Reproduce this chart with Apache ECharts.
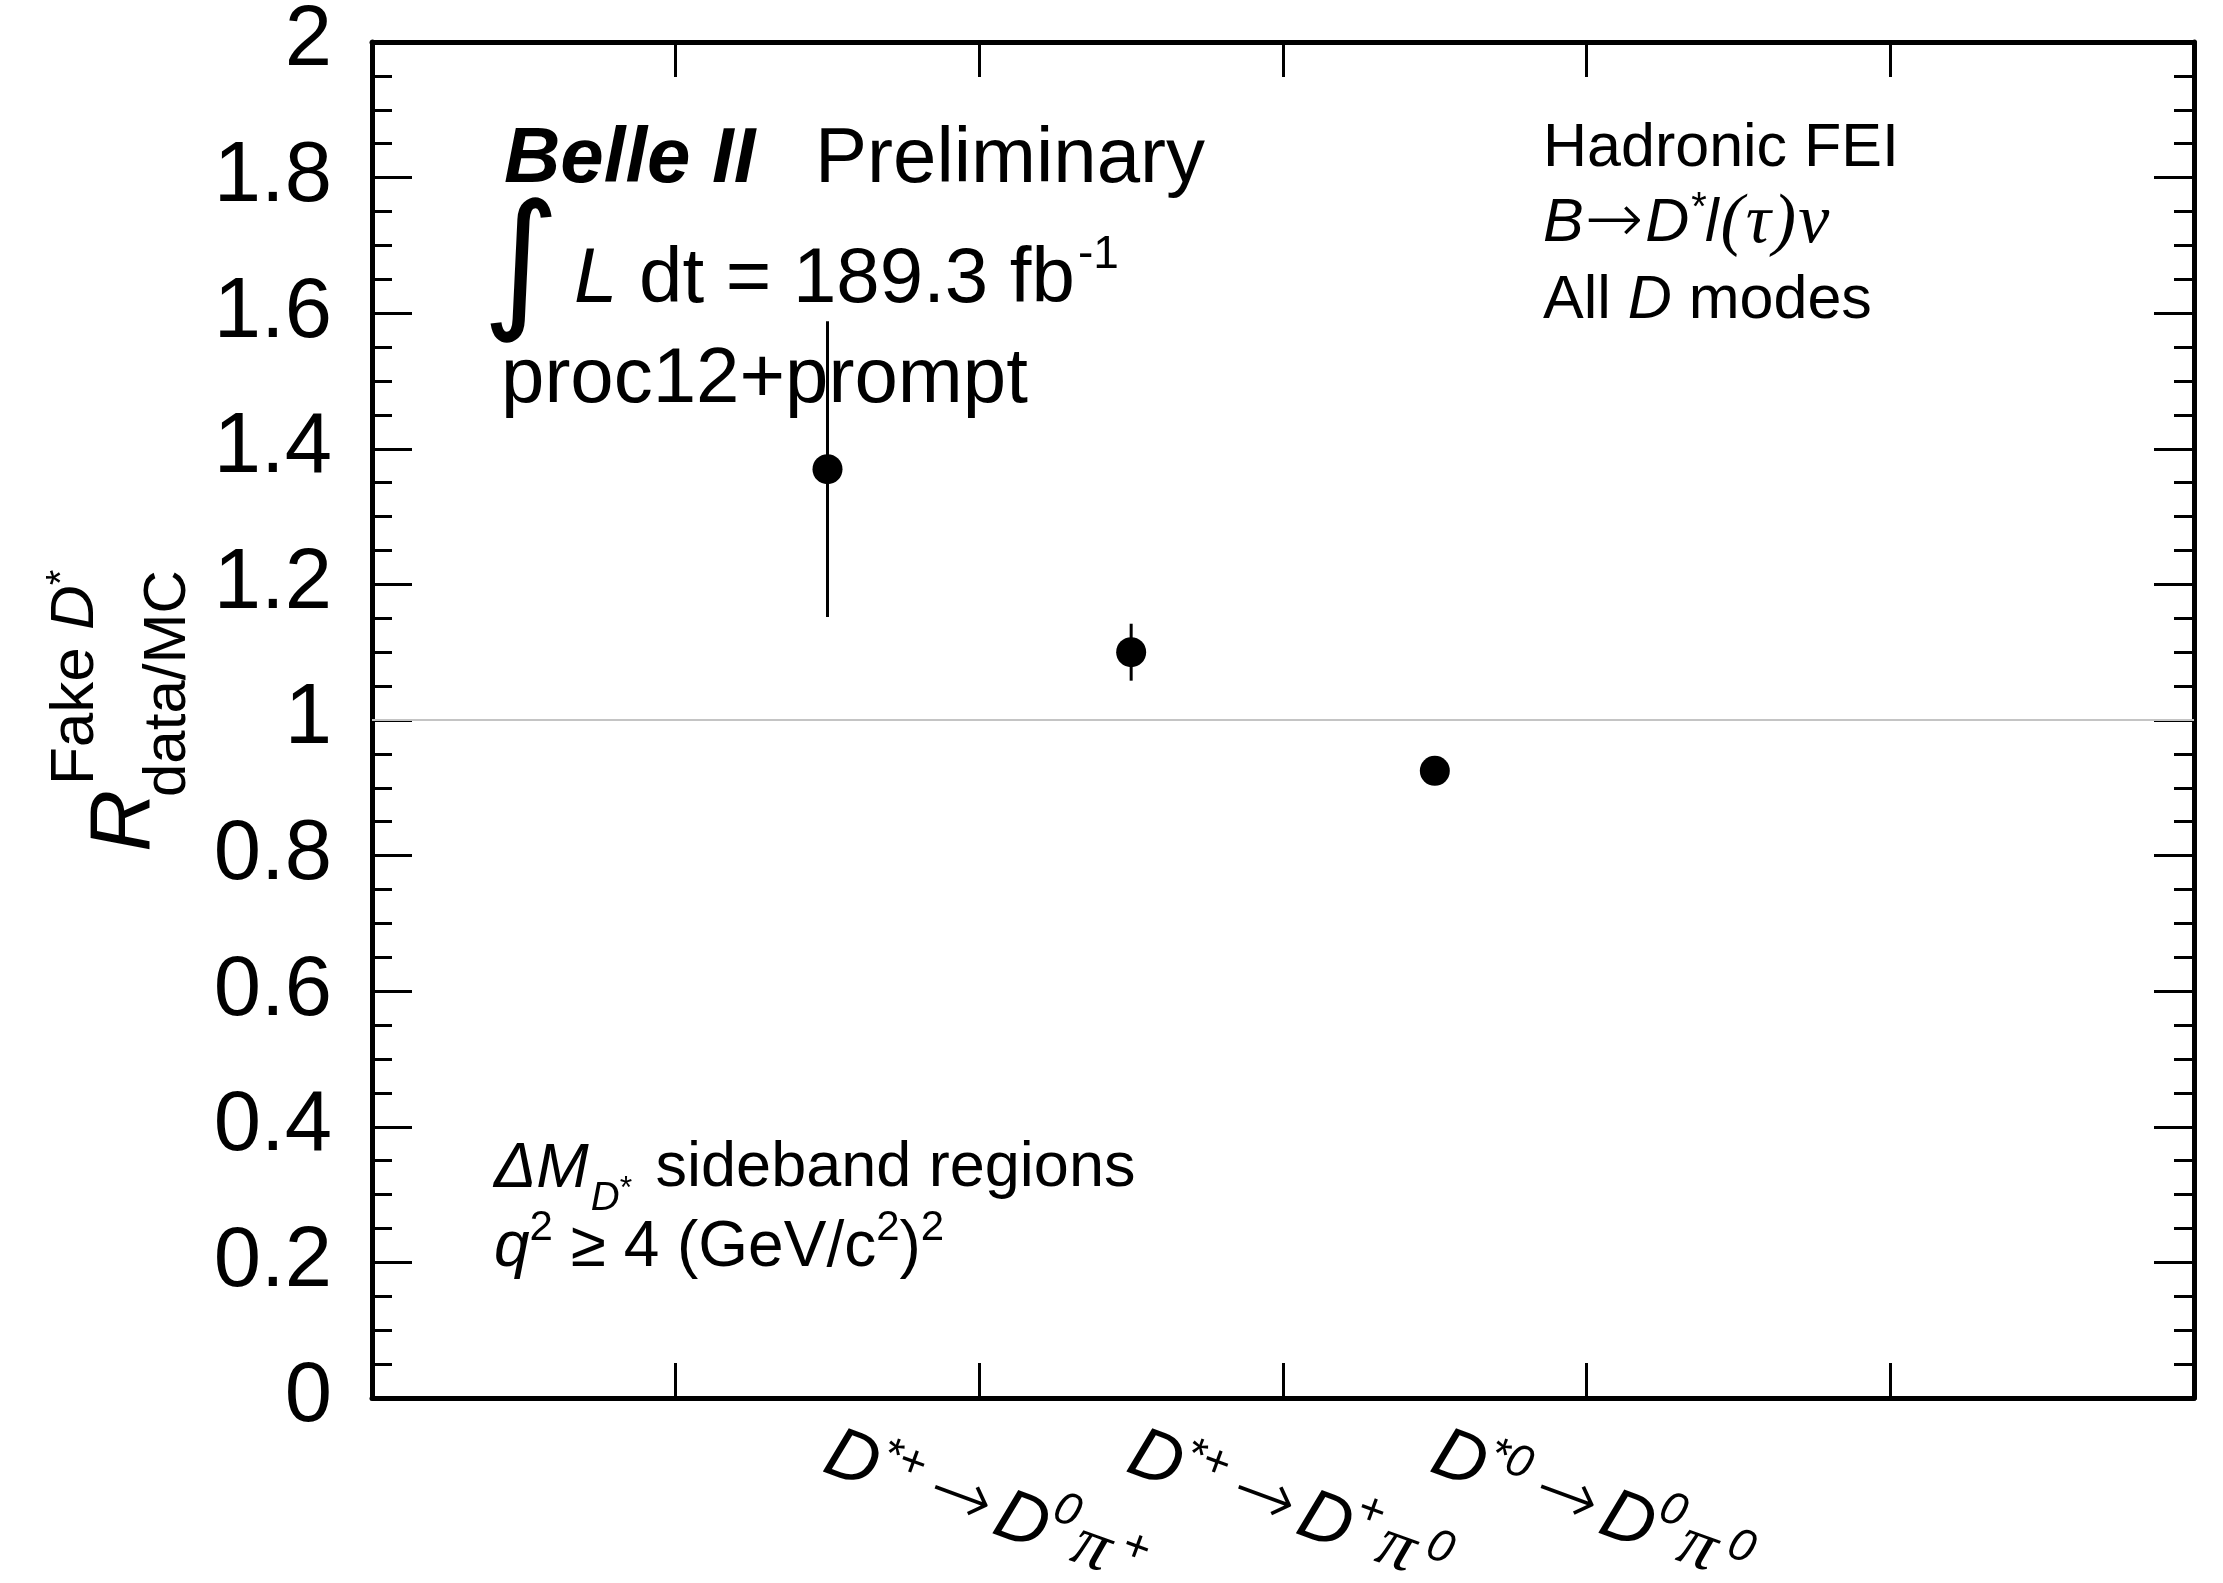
<!DOCTYPE html>
<html><head><meta charset="utf-8">
<script src="https://cdn.jsdelivr.net/npm/echarts@6/dist/echarts.min.js"></script>
<style>html,body{margin:0;padding:0;background:#fff}#c{width:2223px;height:1583px}</style>
</head><body><div id="c"></div>
<script>
// ---- data ----
const categories = ['bin0', 'Dstp_D0pip', 'Dstp_Dppi0', 'Dst0_D0pi0', 'bin4', 'bin5'];
const labelParent   = ['', '*+', '*+', '*0', '', ''];
const labelDaughter = ['', '0', '+', '0', '', ''];
const labelPion     = ['', '+', '0', '0', '', ''];
const pointCats = ['Dstp_D0pip', 'Dstp_Dppi0', 'Dst0_D0pi0'];
const ratio     = [1.37, 1.10, 0.925];
const ratioErr  = [0.218, 0.042, 0.015];
const yTickLabels = ['0', '0.2', '0.4', '0.6', '0.8', '1', '1.2', '1.4', '1.6', '1.8', '2'];
const refValue = 1;

const SANS = "'Liberation Sans', Arial, Helvetica, sans-serif";
const SERIF = "'Liberation Serif', 'Times New Roman', serif";
const ARROWF = "'DejaVu Sans', sans-serif";

const chart = echarts.init(document.getElementById('c'), null, {renderer: 'canvas'});

const axisLineStyle = {color: '#000', width: 5};
const tickStyle = {color: '#000', width: 3};

function xLabel(value, index) {
  if (!labelParent[index]) return '';
  return '{D|D}{sa|' + labelParent[index] + '}{ar|\u2192}{D2|D}{sb|' + labelDaughter[index] +
         '}{pi|\u03c0}{sc|' + labelPion[index] + '}';
}

function yLabel(v) {
  const i = Math.round(v / 0.2);
  return yTickLabels[i] !== undefined ? yTickLabels[i] : '';
}

function T(x, y, text, fs, extra) {
  const st = Object.assign({
    text: text, fill: '#000', fontSize: fs, fontFamily: SANS,
    align: 'left', verticalAlign: 'middle'
  }, extra && extra.style || {});
  const el = {type: 'text', x: x, y: y, z: 100, silent: true, style: st};
  if (extra && extra.rotation) el.rotation = extra.rotation;
  return el;
}

const option = {
  backgroundColor: '#fff',
  animation: false,
  grid: {left: 372, right: 29, top: 42, bottom: 185, containLabel: false, outerBoundsMode: 'none'},
  xAxis: [
    {
      type: 'category', data: categories, position: 'bottom', boundaryGap: true,
      axisLine: {show: true, onZero: false, lineStyle: axisLineStyle},
      axisTick: {show: true, inside: true, length: 35, interval: 0, lineStyle: tickStyle},
      splitLine: {show: false},
      axisLabel: {
        show: true, interval: 0, rotate: -20, margin: 54, formatter: xLabel,
        color: '#000',
        rich: {
          D:  {fontFamily: SANS, fontStyle: 'italic', fontSize: 72, lineHeight: 110, color: '#000'},
          sa: {fontFamily: SANS, fontStyle: 'italic', fontSize: 46, padding: [0, 0, 36, 0], color: '#000'},
          ar: {fontFamily: ARROWF, fontWeight: 200, fontSize: 76, padding: [0, 0, 0, 12], color: '#000'},
          D2: {fontFamily: SANS, fontStyle: 'italic', fontSize: 72, padding: [0, 0, 0, 8], color: '#000'},
          sb: {fontFamily: SANS, fontStyle: 'italic', fontSize: 46, padding: [0, 0, 52, 0], color: '#000'},
          pi: {fontFamily: SERIF, fontStyle: 'italic', fontSize: 72, padding: [0, 0, 0, 5], color: '#000'},
          sc: {fontFamily: SANS, fontStyle: 'italic', fontSize: 46, padding: [0, 0, 30, 10], color: '#000'}
        }
      }
    },
    {
      type: 'category', data: categories, position: 'top', boundaryGap: true,
      axisLine: {show: true, onZero: false, lineStyle: axisLineStyle},
      axisTick: {show: true, inside: true, length: 35, interval: 0, lineStyle: tickStyle},
      axisLabel: {show: false}, splitLine: {show: false}
    }
  ],
  yAxis: [
    {
      type: 'value', position: 'left', min: 0, max: 2, interval: 0.2,
      axisLine: {show: true, onZero: false, lineStyle: axisLineStyle},
      axisTick: {show: true, inside: true, length: 40, lineStyle: tickStyle},
      minorTick: {show: true, splitNumber: 4, length: 20, lineStyle: tickStyle},
      splitLine: {show: false},
      axisLabel: {show: true, margin: 40, fontSize: 85, fontFamily: SANS, color: '#000',
                  formatter: yLabel, showMinLabel: true, showMaxLabel: true}
    },
    {
      type: 'value', position: 'right', min: 0, max: 2, interval: 0.2,
      axisLine: {show: true, onZero: false, lineStyle: axisLineStyle},
      axisTick: {show: true, inside: true, length: 40, lineStyle: tickStyle},
      minorTick: {show: true, splitNumber: 4, length: 20, lineStyle: tickStyle},
      splitLine: {show: false},
      axisLabel: {show: false}
    }
  ],
  series: [
    {
      type: 'custom', xAxisIndex: 0, yAxisIndex: 0, z: 3,
      data: pointCats.map((c, i) => [c, ratio[i], ratioErr[i]]),
      encode: {x: 0, y: 1},
      renderItem: function (params, api) {
        const x = api.value(0), y = api.value(1), e = api.value(2);
        const p1 = api.coord([x, y + e]);
        const p2 = api.coord([x, y - e]);
        return {type: 'line', shape: {x1: p1[0], y1: p1[1], x2: p2[0], y2: p2[1]},
                style: {stroke: '#000', lineWidth: 3}};
      }
    },
    {
      type: 'scatter', xAxisIndex: 0, yAxisIndex: 0, z: 4,
      data: pointCats.map((c, i) => [c, ratio[i]]),
      symbol: 'circle', symbolSize: 30,
      itemStyle: {color: '#000', opacity: 1},
      markLine: {
        silent: true, symbol: ['none', 'none'], label: {show: false},
        lineStyle: {color: '#c4c4c4', width: 2, type: 'solid'},
        data: [{yAxis: refValue}], animation: false
      }
    }
  ],
  graphic: [
    // top-left block
    T(504, 160, 'Belle II', 78, {style: {fontWeight: 'bold', fontStyle: 'italic'}}),
    T(815, 160, 'Preliminary', 78),
    T(482, 272, '\u222b', 150, {style: {fontFamily: ARROWF}}),
    T(574, 280, '{i|L} dt = 189.3 fb{s|-1}', 78, {style: {rich: {
      i: {fontStyle: 'italic', fontSize: 78, fontFamily: SANS},
      s: {fontSize: 46, fontFamily: SANS, padding: [0, 0, 50, 3]}
    }}}),
    T(501, 380, 'proc12+prompt', 78),
    // top-right block
    T(1543, 149, 'Hadronic FEI', 61),
    T(1543, 224, '{i|B}{ar|\u2192}{i|D}{s|*}{i|l}{g|(}{g|\u03c4}{g|)}{g|\u03bd}', 61, {style: {rich: {
      i: {fontStyle: 'italic', fontSize: 61, fontFamily: SANS},
      ar: {fontSize: 70, fontWeight: 200, fontFamily: ARROWF, padding: [0, 2, 0, 1]},
      s: {fontStyle: 'italic', fontSize: 40, fontFamily: SANS, padding: [0, 0, 30, 0]},
      g: {fontStyle: 'italic', fontSize: 70, fontFamily: SERIF, padding: [0, 0, 0, 2]}
    }}}),
    T(1543, 301, 'All {i|D} modes', 61, {style: {rich: {
      i: {fontStyle: 'italic', fontSize: 61, fontFamily: SANS}
    }}}),
    // bottom-left block
    T(494, 1169, '{i|\u0394M}{sub|D}{st|*}{n| sideband regions}', 63, {style: {rich: {
      i: {fontStyle: 'italic', fontSize: 63, fontFamily: SANS},
      sub: {fontStyle: 'italic', fontSize: 40, fontFamily: SANS, padding: [60, 0, 0, 2]},
      st: {fontSize: 32, fontFamily: SANS, padding: [40, 0, 0, 0]},
      n: {fontSize: 63, fontFamily: SANS, padding: [0, 0, 0, 6]}
    }}}),
    T(494, 1248, '{i|q}{s|2} \u2265 4 (GeV/c{s|2}){s|2}', 64, {style: {rich: {
      i: {fontStyle: 'italic', fontSize: 64, fontFamily: SANS},
      s: {fontSize: 42, fontFamily: SANS, padding: [0, 0, 40, 0]}
    }}}),
    // y axis title
    T(125, 852, 'R', 86, {rotation: Math.PI / 2, style: {fontStyle: 'italic'}}),
    T(76, 785, 'Fake {i|D}{s|*}', 62, {rotation: Math.PI / 2, style: {rich: {
      i: {fontStyle: 'italic', fontSize: 62, fontFamily: SANS},
      s: {fontSize: 40, fontFamily: SANS, padding: [0, 0, 26, 0]}
    }}}),
    T(168, 797, 'data/MC', 60, {rotation: Math.PI / 2})
  ]
};
chart.setOption(option);
</script></body></html>
